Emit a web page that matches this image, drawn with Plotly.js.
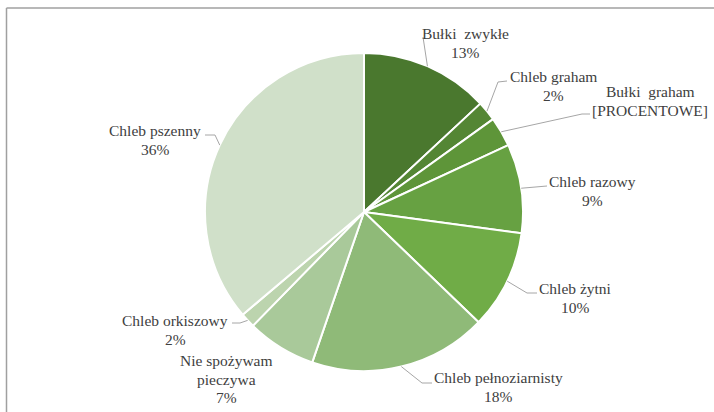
<!DOCTYPE html>
<html>
<head>
<meta charset="utf-8">
<script src="https://cdn.plot.ly/plotly-3.0.1.min.js"></script>
<style>
html,body{margin:0;padding:0;background:#fff;}
#chart svg text, #chart svg tspan { font-family: "Liberation Serif", "Times New Roman", serif !important; }
</style>
</head>
<body>
<div id="chart"></div>
<script>
// Data
const categories = ["Bułki zwykłe", "Chleb graham", "Bułki graham", "Chleb razowy", "Chleb żytni",
  "Chleb pełnoziarnisty", "Nie spożywam pieczywa", "Chleb orkiszowy", "Chleb pszenny"];
const values = [13, 2, 3, 9, 10, 18, 7, 1.5, 36];
const labelLines = [["Bułki  zwykłe"], ["Chleb graham"], ["Bułki  graham", "[PROCENTOWE]"], ["Chleb razowy"],
  ["Chleb żytni"], ["Chleb pełnoziarnisty"], ["Nie spożywam", "pieczywa"], ["Chleb orkiszowy"], ["Chleb pszenny"]];
const showPercent = [true, true, false, true, true, true, true, true, true];
const colors = ["#4a782e", "#548634", "#5e9539", "#67a142", "#70ac47", "#8fba78", "#a9c99a", "#bcd4ae", "#d0e0c9"];

// Layout (pixel placement of labels / leader elbows)
const W = 714, H = 412;
const CX = 364, CY = 212, R = 159;
const LINE_H = 18.5;
const labelPos = [[465, 43], [553, 86], [650, 101], [592, 191], [575, 298], [499, 387], [226, 379], [175, 330], [155, 140]];
const leaderPts = [[[423, 37]], [[498, 82], [507, 81]], [[582, 114], [590, 114]], [[547, 186]],
  [[527, 293], [537, 293]], [[422, 383], [432, 383]], null, [[240, 323], [232, 323]], [[215, 135], [205, 135]]];

const px = x => x / W;
const py = y => 1 - y / H;
const total = values.reduce((a, b) => a + b, 0);

const annotations = [];
const shapes = [];
let cum = 0;
values.forEach((v, i) => {
  const mid = (cum + v / 2) / total * 2 * Math.PI;
  cum += v;
  const sx = CX + R * Math.sin(mid), sy = CY - R * Math.cos(mid);
  const pct = Math.round(v / total * 100) + "%";
  const lines = labelLines[i].slice();
  if (showPercent[i]) lines.push(pct);
  const y0 = labelPos[i][1] - (lines.length - 1) / 2 * LINE_H;
  lines.forEach((t, k) => {
    annotations.push({
      xref: "paper", yref: "paper", x: px(labelPos[i][0]), y: py(y0 + k * LINE_H),
      xanchor: "center", yanchor: "middle", showarrow: false,
      text: t,
      font: {family: "Liberation Serif", size: 15.5, color: "#404040"}
    });
  });
  if (leaderPts[i]) {
    let d = "M" + px(sx) + "," + py(sy);
    leaderPts[i].forEach(p => { d += " L" + px(p[0]) + "," + py(p[1]); });
    shapes.push({type: "path", xref: "paper", yref: "paper", path: d,
      line: {color: "#a6a6a6", width: 1}});
  }
});

// frame
shapes.push({type: "line", xref: "paper", yref: "paper", x0: px(6.5), y0: py(8), x1: 1, y1: py(8), line: {color: "#a0a0a0", width: 1.5}});
shapes.push({type: "line", xref: "paper", yref: "paper", x0: px(6.5), y0: py(8), x1: px(6.5), y1: 0, line: {color: "#a0a0a0", width: 1.5}});

const trace = {
  type: "pie",
  labels: categories,
  values: values,
  sort: false,
  direction: "clockwise",
  rotation: 0,
  textinfo: "none",
  hoverinfo: "none",
  marker: {colors: colors, line: {color: "#ffffff", width: 2}},
  domain: {x: [px(CX - R), px(CX + R)], y: [py(CY + R), py(CY - R)]},
  showlegend: false
};

Plotly.newPlot("chart", [trace], {
  width: W, height: H,
  margin: {l: 0, r: 0, t: 0, b: 0},
  paper_bgcolor: "#ffffff",
  showlegend: false,
  annotations: annotations,
  shapes: shapes
}, {displayModeBar: false});
</script>
</body>
</html>
